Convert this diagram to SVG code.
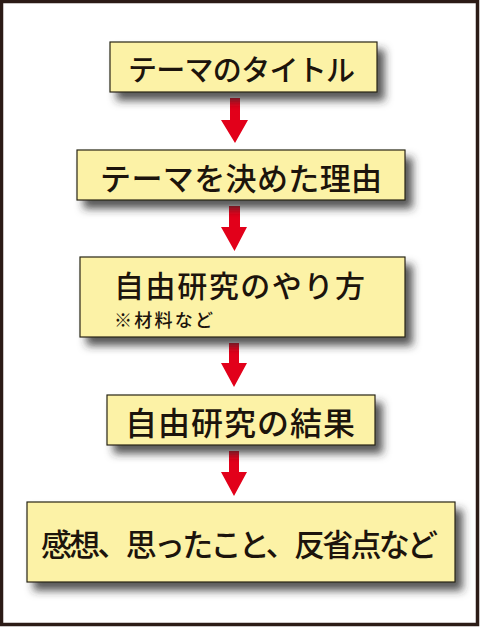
<svg xmlns="http://www.w3.org/2000/svg" width="480" height="627" viewBox="0 0 480 627">
<defs>
<filter id="sh" x="-10%" y="-30%" width="125%" height="180%">
<feDropShadow dx="7" dy="8" stdDeviation="4" flood-color="#2a2a2a" flood-opacity="0.8"/>
</filter>
</defs>
<style>
.box{fill:#fcf2a6;stroke:#2a2418;stroke-width:1.2;filter:url(#sh)}
.t{font-family:"Noto Sans CJK JP","Noto Sans CJK SC",sans-serif;font-weight:500;fill:#1c140c;dominant-baseline:central}
.arr{fill:#e2001a}
</style>
<rect x="0" y="0" width="480" height="627" fill="#ffffff"/>
<rect x="1.5" y="1.5" width="476" height="623" fill="none" stroke="#2b1b16" stroke-width="3.5"/>
<g id="connectors">
<path class="arr" d="M230 98H240V120H248L235 143L221 120H230Z"/>
<path class="arr" d="M229 206H240V227H247L234.5 251L221 227H229Z"/>
<path class="arr" d="M229 343H239V363H247L234 387L221 363H229Z"/>
<path class="arr" d="M229 451H239V472H247L234 496L221 472H229Z"/>
</g>
<g id="node1">
<rect class="box" x="110" y="42" width="267" height="50"/>
<text class="t" x="241.5" y="68" font-size="29" text-anchor="middle" textLength="227">テーマのタイトル</text>
</g>
<g id="node2">
<rect class="box" x="77" y="150" width="328" height="50"/>
<text class="t" x="241" y="176" font-size="31" text-anchor="middle" textLength="282">テーマを決めた理由</text>
</g>
<g id="node3">
<rect class="box" x="80" y="257" width="325" height="80"/>
<text class="t" x="114" y="284" font-size="30" textLength="251">自由研究のやり方</text>
<text class="t" x="114" y="319" font-size="18" textLength="99">※材料など</text>
</g>
<g id="node4">
<rect class="box" x="107" y="395" width="268" height="50"/>
<text class="t" x="240" y="421" font-size="32" text-anchor="middle" textLength="230">自由研究の結果</text>
</g>
<g id="node5">
<rect class="box" x="27" y="502" width="428" height="80"/>
<text class="t" x="239.5" y="542" font-size="31" text-anchor="middle" textLength="397">感想、思ったこと、反省点など</text>
</g>
</svg>
